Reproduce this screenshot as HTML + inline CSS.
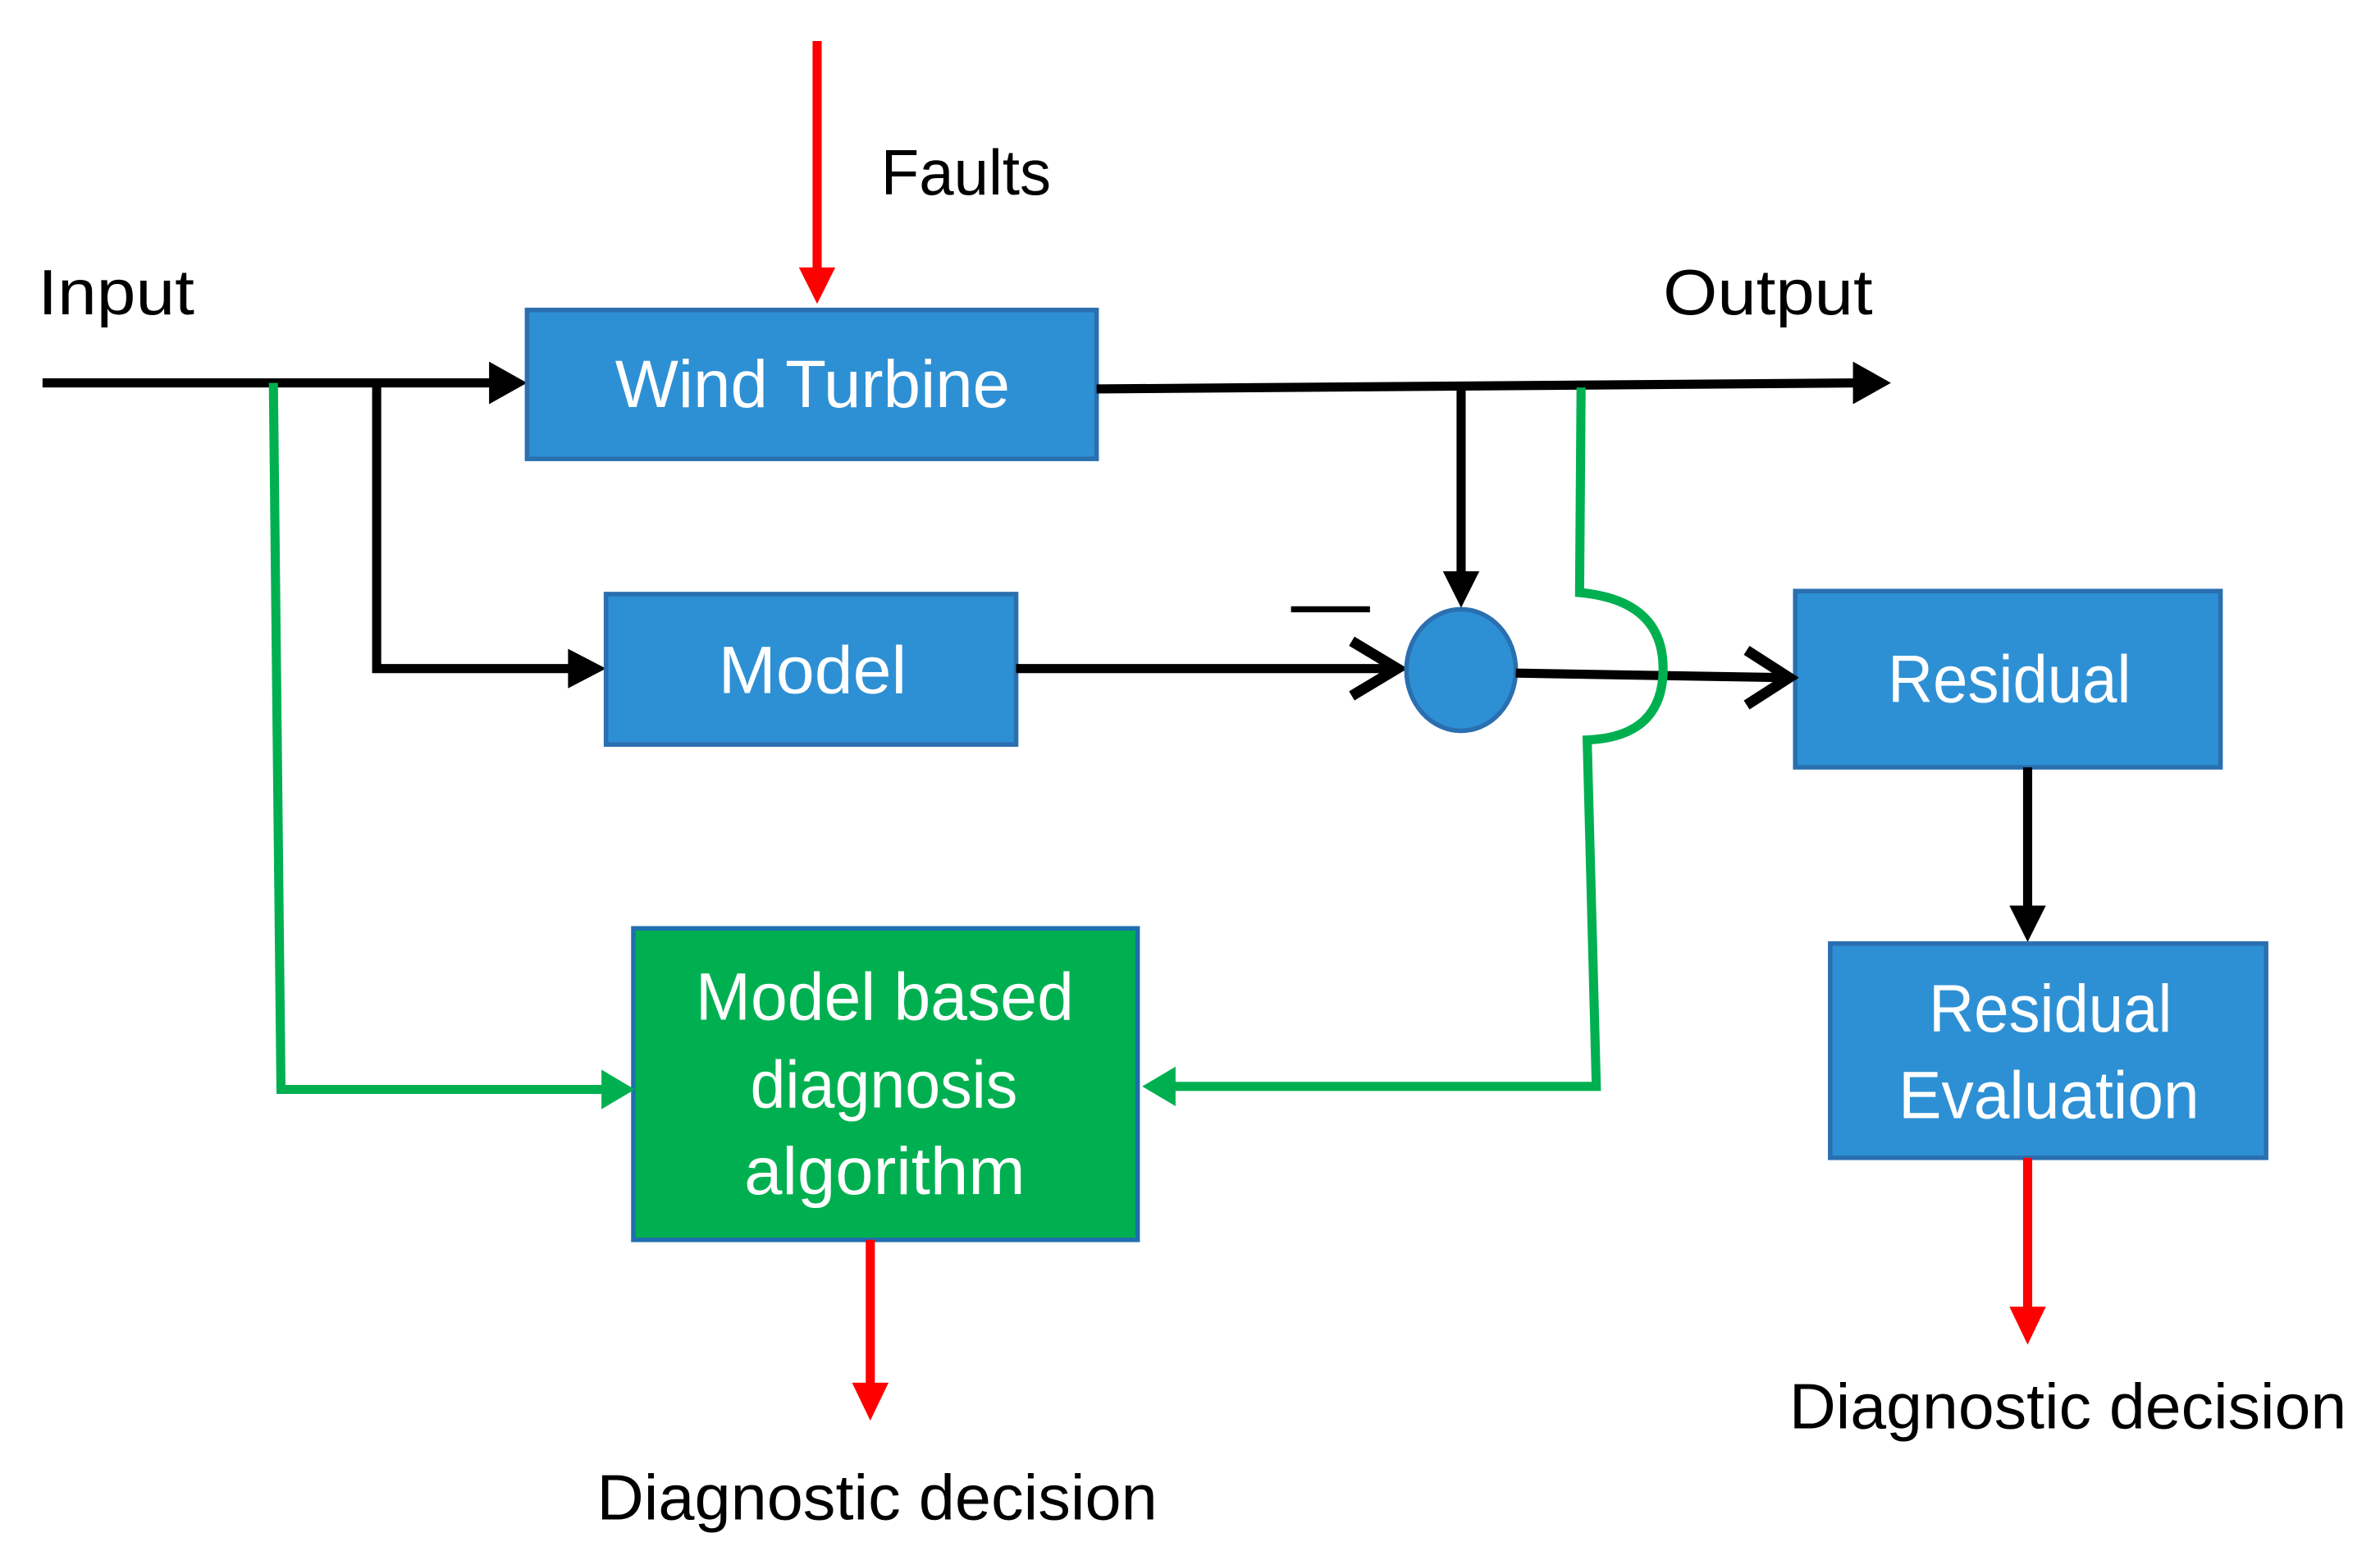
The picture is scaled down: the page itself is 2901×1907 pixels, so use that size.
<!DOCTYPE html>
<html><head><style>html,body{margin:0;padding:0;background:#fff}svg{display:block}</style></head>
<body>
<svg width="2901" height="1907" viewBox="0 0 1567 1030" preserveAspectRatio="none" xmlns="http://www.w3.org/2000/svg" font-family="Liberation Sans, sans-serif">
<line x1="538" y1="27" x2="538" y2="178" stroke="#f00" stroke-width="6"/>
<path d="M526,176 L550,176 L538,200 Z" fill="#f00"/>
<text x="580" y="128" font-size="42" fill="#000" textLength="112" lengthAdjust="spacingAndGlyphs">Faults</text>
<text x="25" y="207" font-size="42" fill="#000" textLength="103" lengthAdjust="spacingAndGlyphs">Input</text>
<text x="1095" y="207" font-size="42" fill="#000" textLength="138" lengthAdjust="spacingAndGlyphs">Output</text>
<line x1="28" y1="252" x2="325" y2="252" stroke="#000" stroke-width="6"/>
<path d="M322,238 L347,252 L322,266 Z" fill="#000"/>
<polyline points="248,252 248,440 378,440" fill="none" stroke="#000" stroke-width="6"/>
<path d="M374,427 L399,440 L374,453 Z" fill="#000"/>
<rect x="347" y="204" width="375" height="98" fill="#2e90d4" stroke="#2a6fb0" stroke-width="3"/>
<text x="405" y="268" font-size="44" fill="#fff" textLength="260" lengthAdjust="spacingAndGlyphs">Wind Turbine</text>
<rect x="399" y="391" width="270" height="99" fill="#2e90d4" stroke="#2a6fb0" stroke-width="3"/>
<text x="473" y="456" font-size="44" fill="#fff" textLength="124" lengthAdjust="spacingAndGlyphs">Model</text>
<rect x="1182" y="389" width="280" height="116" fill="#2e90d4" stroke="#2a6fb0" stroke-width="3"/>
<text x="1243" y="462" font-size="44" fill="#fff" textLength="160" lengthAdjust="spacingAndGlyphs">Residual</text>
<rect x="1205" y="621" width="287" height="141" fill="#2e90d4" stroke="#2a6fb0" stroke-width="3"/>
<text x="1270" y="679" font-size="44" fill="#fff" textLength="160" lengthAdjust="spacingAndGlyphs">Residual</text>
<text x="1250" y="736" font-size="44" fill="#fff" textLength="198" lengthAdjust="spacingAndGlyphs">Evaluation</text>
<rect x="417" y="611" width="332" height="205" fill="#00b050" stroke="#1f6fb0" stroke-width="3"/>
<text x="458" y="671" font-size="44" fill="#fff" textLength="249" lengthAdjust="spacingAndGlyphs">Model based</text>
<text x="494" y="729" font-size="44" fill="#fff" textLength="176" lengthAdjust="spacingAndGlyphs">diagnosis</text>
<text x="490" y="786" font-size="44" fill="#fff" textLength="185" lengthAdjust="spacingAndGlyphs">algorithm</text>
<line x1="722" y1="256" x2="1225" y2="252" stroke="#000" stroke-width="6"/>
<path d="M1220,238 L1245,252 L1220,266 Z" fill="#000"/>
<line x1="962" y1="256" x2="962" y2="380" stroke="#000" stroke-width="6"/>
<path d="M950,376 L974,376 L962,400 Z" fill="#000"/>
<line x1="669" y1="440" x2="918" y2="440" stroke="#000" stroke-width="6"/>
<polyline points="890,422 920,440 890,458" fill="none" stroke="#000" stroke-width="7"/>
<line x1="850" y1="401" x2="902" y2="401" stroke="#000" stroke-width="4"/>
<ellipse cx="962" cy="441" rx="36" ry="40" fill="#2e90d4" stroke="#2a6fb0" stroke-width="3"/>
<line x1="998" y1="443" x2="1176" y2="446" stroke="#000" stroke-width="6"/>
<polyline points="1150,428 1178,446 1150,464" fill="none" stroke="#000" stroke-width="7"/>
<line x1="1335" y1="505" x2="1335" y2="598" stroke="#000" stroke-width="6"/>
<path d="M1323,596 L1347,596 L1335,620 Z" fill="#000"/>
<line x1="1335" y1="762" x2="1335" y2="862" stroke="#f00" stroke-width="6"/>
<path d="M1323,860 L1347,860 L1335,885 Z" fill="#f00"/>
<text x="1178" y="940" font-size="42" fill="#000" textLength="367" lengthAdjust="spacingAndGlyphs">Diagnostic decision</text>
<line x1="573" y1="816" x2="573" y2="912" stroke="#f00" stroke-width="6"/>
<path d="M561,910 L585,910 L573,935 Z" fill="#f00"/>
<text x="393" y="1000" font-size="42" fill="#000" textLength="369" lengthAdjust="spacingAndGlyphs">Diagnostic decision</text>
<polyline points="180,252 185,717 400,717" fill="none" stroke="#00b050" stroke-width="6"/>
<path d="M396,704 L418,717 L396,730 Z" fill="#00b050"/>
<path d="M1041,255 L1040,390 Q1095,395 1095,440 Q1095,485 1045,487 L1051,715 L770,715" fill="none" stroke="#00b050" stroke-width="6"/>
<path d="M774,702 L752,715 L774,728 Z" fill="#00b050"/>
</svg>
</body></html>
